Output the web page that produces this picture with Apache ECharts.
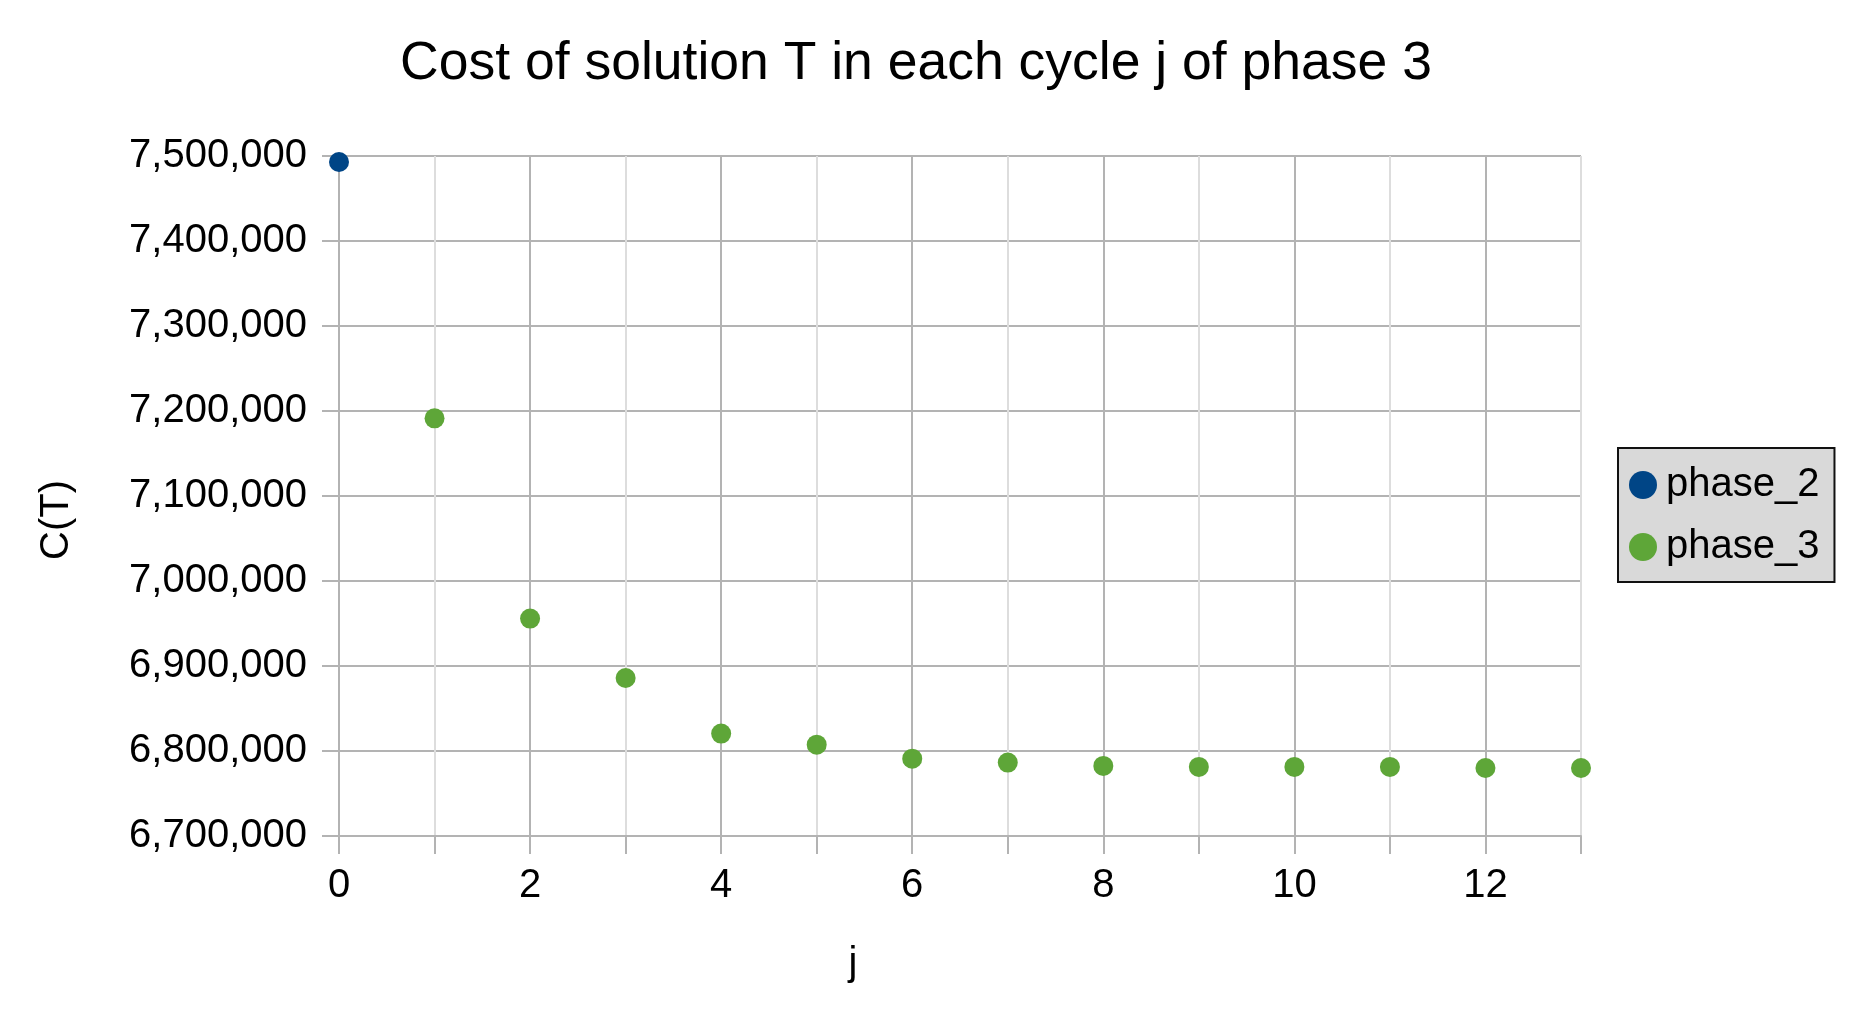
<!DOCTYPE html>
<html>
<head>
<meta charset="utf-8">
<title>Cost of solution T</title>
<script src="https://cdn.jsdelivr.net/npm/echarts@6/dist/echarts.min.js"></script>
<style>
html,body{margin:0;padding:0;background:#fff;}
#main{width:1875px;height:1027px;}
</style>
</head>
<body>
<div id="main"></div>
<script>
// 数据
var phase2J = [0];
var phase2Cost = [7493000];
var phase3J = [1, 2, 3, 4, 5, 6, 7, 8, 9, 10, 11, 12, 13];
var phase3Cost = [7191400, 6955800, 6885900, 6820500, 6807500, 6791000, 6786400,
    6782500, 6781300, 6781300, 6781300, 6780000, 6780000];
var seriesNames = ['phase_2', 'phase_3'];
var seriesColors = ['#004586', '#5ea638'];

function pairs(xs, ys) {
    var out = [];
    for (var i = 0; i < xs.length; i++) {
        out.push([xs[i], ys[i]]);
    }
    return out;
}

var font = '"Liberation Sans", Arial, sans-serif';
var gridDark = '#b3b3b3';
var gridLight = '#dddddd';

var myChart = echarts.init(document.getElementById('main'));
var option = {
    animation: false,
    backgroundColor: '#ffffff',
    title: {
        text: 'Cost of solution T in each cycle j of phase 3',
        left: 916,
        top: 37,
        padding: 0,
        textAlign: 'center',
        textStyle: {
            fontFamily: font,
            fontSize: 53.5,
            fontWeight: 'normal',
            color: '#000'
        }
    },
    legend: {
        orient: 'vertical',
        left: 1618,
        top: 448,
        padding: [17, 15, 15, 11],
        itemGap: 22,
        itemWidth: 28,
        itemHeight: 28,
        icon: 'circle',
        backgroundColor: '#d9d9d9',
        borderColor: '#111',
        borderWidth: 2,
        borderRadius: 0,
        data: seriesNames,
        textStyle: {
            fontFamily: font,
            fontSize: 40,
            color: '#000',
            padding: [0, 0, 0, 4]
        }
    },
    grid: {
        left: 339,
        right: 1875 - 1581,
        top: 156,
        bottom: 1027 - 836,
        containLabel: false
    },
    xAxis: {
        type: 'value',
        min: 0,
        max: 13,
        interval: 1,
        name: 'j',
        nameLocation: 'middle',
        nameGap: 108,
        nameTextStyle: {
            fontFamily: font,
            fontSize: 40,
            color: '#000',
            padding: [0, 214, 0, 0]
        },
        axisLine: { lineStyle: { color: gridDark, width: 2 } },
        axisTick: { show: true, length: 18, lineStyle: { color: gridDark, width: 2 } },
        axisLabel: {
            margin: 30,
            fontFamily: font,
            fontSize: 40,
            color: '#000',
            formatter: function (v) {
                return v % 2 === 0 && v !== 13 ? String(v) : '';
            }
        },
        splitLine: {
            show: true,
            lineStyle: { color: [gridDark, gridLight], width: 2 }
        }
    },
    yAxis: {
        type: 'value',
        min: 6700000,
        max: 7500000,
        interval: 100000,
        name: 'C(T)',
        nameLocation: 'middle',
        nameRotate: 90,
        nameGap: 262,
        nameTextStyle: {
            fontFamily: font,
            fontSize: 40,
            color: '#000',
            padding: [0, 48, 0, 0]
        },
        axisLine: { show: true, lineStyle: { color: gridDark, width: 2 } },
        axisTick: { show: true, length: 17, lineStyle: { color: gridDark, width: 2 } },
        axisLabel: {
            margin: 32,
            fontFamily: font,
            fontSize: 40,
            color: '#000',
            formatter: function (v) {
                return v.toLocaleString('en-US');
            }
        },
        splitLine: { lineStyle: { color: gridDark, width: 2 } }
    },
    series: [{
        name: seriesNames[0],
        type: 'scatter',
        symbol: 'circle',
        symbolSize: 20,
        itemStyle: { color: seriesColors[0], opacity: 1 },
        data: pairs(phase2J, phase2Cost)
    }, {
        name: seriesNames[1],
        type: 'scatter',
        symbol: 'circle',
        symbolSize: 20,
        itemStyle: { color: seriesColors[1], opacity: 1 },
        data: pairs(phase3J, phase3Cost)
    }]
};
myChart.setOption(option);
</script>
</body>
</html>
